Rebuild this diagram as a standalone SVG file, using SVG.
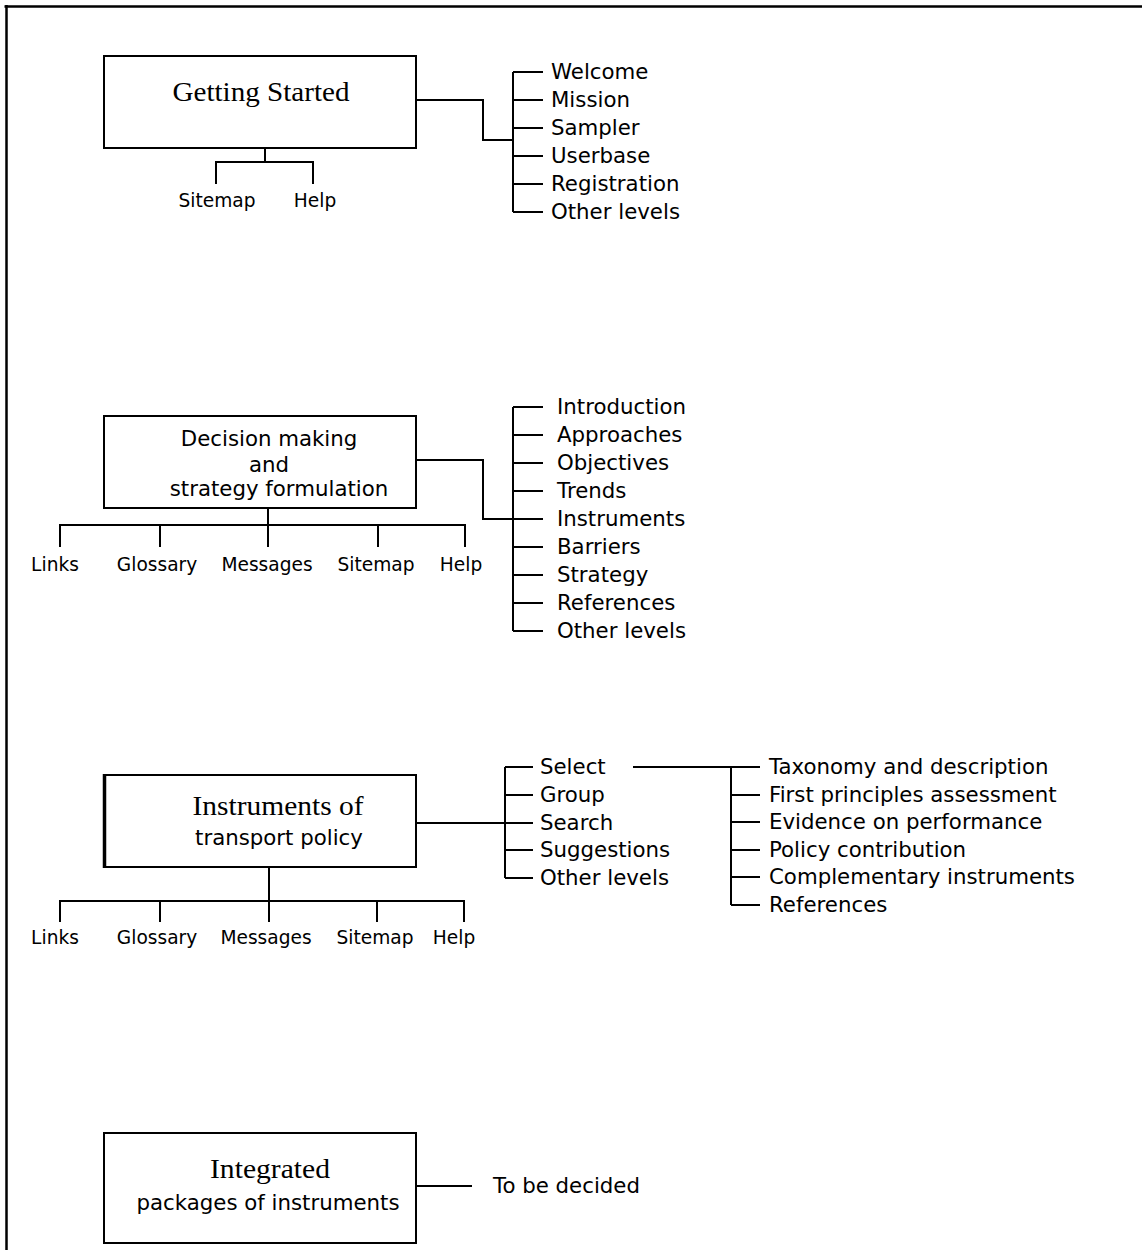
<svg xmlns="http://www.w3.org/2000/svg" width="1142" height="1250" viewBox="0 0 1142 1250">
<style>
.box{fill:#fff;stroke:#000;stroke-width:2}
.ln{fill:none;stroke:#000;stroke-width:2}
.serif{font-family:"Liberation Serif","Times New Roman",serif;font-size:28px;fill:#000}
.sans{font-family:"DejaVu Sans",Verdana,sans-serif;font-size:21.3px;fill:#000}
.lbl{font-family:"DejaVu Sans",Verdana,sans-serif;font-size:21.3px;fill:#000}
.sm{font-family:"DejaVu Sans",Verdana,sans-serif;font-size:18.6px;fill:#000}
.mid{text-anchor:middle}
</style>
<rect width="1142" height="1250" fill="#fff"/>
<g id="frame">
<path d="M4.5,6.5H1142M6.5,5V1250" fill="none" stroke="#000" stroke-width="2.5"/>
</g>

<g id="connectors" class="ln">
<!-- section 1 -->
<path d="M416,100H483V140H513"/>
<path d="M513,72V212"/>
<path d="M513,72H543M513,100H543M513,128H543M513,156H543M513,184H543M513,212H543"/>
<path d="M265,148V162M216,184V162H313V184"/>
<!-- section 2 -->
<path d="M416,460H483V519H513"/>
<path d="M513,407V631"/>
<path d="M513,407H543M513,435H543M513,463H543M513,491H543M513,519H543M513,547H543M513,575H543M513,603H543M513,631H543"/>
<path d="M268,508V525M60,547V525H465V547M160,525V547M268,525V547M378,525V547"/>
<!-- section 3 -->
<path d="M416,823H505"/>
<path d="M505,767V878"/>
<path d="M505,767H533M505,795H533M505,823H533M505,850H533M505,878H533"/>
<path d="M633,767H760M731,767V905"/>
<path d="M731,795H760M731,822H760M731,850H760M731,877H760M731,905H760"/>
<path d="M269,867V901M60,922V901H464V922M160,901V922M269,901V922M377,901V922"/>
<!-- section 4 -->
<path d="M416,1186H472"/>
</g>

<g id="node-getting-started">
<rect class="box" x="104" y="56" width="312" height="92"/>
<text class="serif mid" x="261" y="101" textLength="177" lengthAdjust="spacingAndGlyphs">Getting Started</text>
</g>
<g id="gs-welcome"><text class="lbl" x="551" y="79">Welcome</text></g>
<g id="gs-mission"><text class="lbl" x="551" y="107">Mission</text></g>
<g id="gs-sampler"><text class="lbl" x="551" y="135">Sampler</text></g>
<g id="gs-userbase"><text class="lbl" x="551" y="163">Userbase</text></g>
<g id="gs-registration"><text class="lbl" x="551" y="191">Registration</text></g>
<g id="gs-other"><text class="lbl" x="551" y="219">Other levels</text></g>
<g id="gs-sitemap"><text class="sm mid" x="217" y="207">Sitemap</text></g>
<g id="gs-help"><text class="sm mid" x="315" y="207">Help</text></g>

<g id="node-decision">
<rect class="box" x="104" y="416" width="312" height="92"/>
<text class="sans mid" x="269" y="446">Decision making</text>
<text class="sans mid" x="269" y="472">and</text>
<text class="sans mid" x="279" y="496">strategy formulation</text>
</g>
<g id="dm-introduction"><text class="lbl" x="557" y="414">Introduction</text></g>
<g id="dm-approaches"><text class="lbl" x="557" y="442">Approaches</text></g>
<g id="dm-objectives"><text class="lbl" x="557" y="470">Objectives</text></g>
<g id="dm-trends"><text class="lbl" x="557" y="498">Trends</text></g>
<g id="dm-instruments"><text class="lbl" x="557" y="526">Instruments</text></g>
<g id="dm-barriers"><text class="lbl" x="557" y="554">Barriers</text></g>
<g id="dm-strategy"><text class="lbl" x="557" y="582">Strategy</text></g>
<g id="dm-references"><text class="lbl" x="557" y="610">References</text></g>
<g id="dm-other"><text class="lbl" x="557" y="638">Other levels</text></g>
<g id="dm-links"><text class="sm mid" x="55" y="571">Links</text></g>
<g id="dm-glossary"><text class="sm mid" x="157" y="571">Glossary</text></g>
<g id="dm-messages"><text class="sm mid" x="267" y="571">Messages</text></g>
<g id="dm-sitemap"><text class="sm mid" x="376" y="571">Sitemap</text></g>
<g id="dm-help"><text class="sm mid" x="461" y="571">Help</text></g>

<g id="node-instruments">
<rect class="box" x="104" y="775" width="312" height="92"/>
<path d="M104.5,774V868" stroke="#000" stroke-width="3.5"/>
<text class="serif mid" x="278" y="815" textLength="171" lengthAdjust="spacingAndGlyphs">Instruments of</text>
<text class="sans mid" x="279" y="845">transport policy</text>
</g>
<g id="in-select"><text class="lbl" x="540" y="774">Select</text></g>
<g id="in-group"><text class="lbl" x="540" y="802">Group</text></g>
<g id="in-search"><text class="lbl" x="540" y="830">Search</text></g>
<g id="in-suggestions"><text class="lbl" x="540" y="857">Suggestions</text></g>
<g id="in-other"><text class="lbl" x="540" y="885">Other levels</text></g>
<g id="sel-taxonomy"><text class="lbl" x="769" y="774">Taxonomy and description</text></g>
<g id="sel-first"><text class="lbl" x="769" y="802">First principles assessment</text></g>
<g id="sel-evidence"><text class="lbl" x="769" y="829">Evidence on performance</text></g>
<g id="sel-policy"><text class="lbl" x="769" y="857">Policy contribution</text></g>
<g id="sel-complementary"><text class="lbl" x="769" y="884">Complementary instruments</text></g>
<g id="sel-references"><text class="lbl" x="769" y="912">References</text></g>
<g id="in-links"><text class="sm mid" x="55" y="944">Links</text></g>
<g id="in-glossary"><text class="sm mid" x="157" y="944">Glossary</text></g>
<g id="in-messages"><text class="sm mid" x="266" y="944">Messages</text></g>
<g id="in-sitemap"><text class="sm mid" x="375" y="944">Sitemap</text></g>
<g id="in-help"><text class="sm mid" x="454" y="944">Help</text></g>

<g id="node-integrated">
<rect class="box" x="104" y="1133" width="312" height="110"/>
<text class="serif mid" x="270" y="1178" textLength="120" lengthAdjust="spacingAndGlyphs">Integrated</text>
<text class="sans mid" x="268" y="1210">packages of instruments</text>
</g>
<g id="ip-tbd"><text class="lbl" x="493" y="1193">To be decided</text></g>
</svg>
